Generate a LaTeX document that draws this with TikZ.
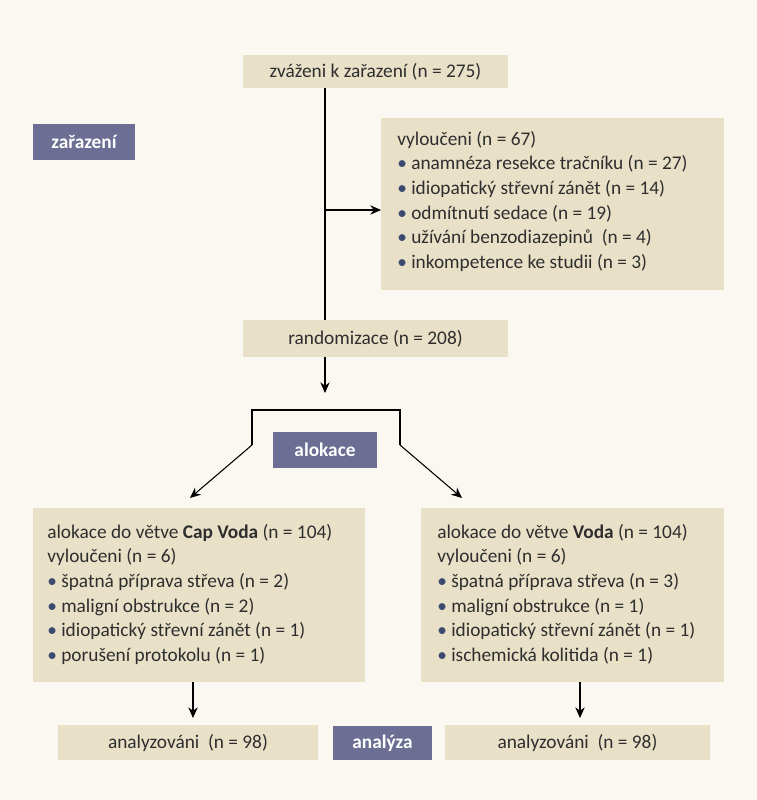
\documentclass[tikz,border=0pt]{standalone}
\usepackage{fontspec}
\setmainfont{Carlito}
\usetikzlibrary{arrows.meta}
\definecolor{bg}{HTML}{FBF8F1}
\definecolor{boxc}{HTML}{E9E0C8}
\definecolor{lab}{HTML}{6C6F93}
\definecolor{txt}{HTML}{2E2E2E}
\definecolor{bul}{HTML}{3A4A70}
\begin{document}
\begin{tikzpicture}[x=0.75pt,y=-0.75pt,font=\fontsize{14.5}{18.4}\selectfont,
  box/.style={fill=boxc,draw=none,text=txt},
  lbl/.style={fill=lab,text=white,font=\fontsize{14.5}{16}\selectfont\bfseries},
  ln/.style={line width=0.8pt,black},
  ar/.style={ln,-{Stealth[length=8pt,width=7pt]}}]
\newcommand{\bt}{{\color{bul}\textbullet}\ }
\fill[bg] (0,0) rectangle (757,800);
\path[box] (243,55) rectangle (508,88) node[midway,text=txt] (top) {zváženi k zařazení (n = 275)};
\coordinate (topb) at (325,88);
\path[lbl] (33,124) rectangle (135,160) node[midway] (zar) {zařazení};
\path[box] (381,118) rectangle (724,290);
\node[anchor=north west,align=left,inner sep=0,text=txt] (excl) at (397,131) {vyloučeni (n = 67)\\
\bt anamnéza resekce tračníku (n = 27)\\
\bt idiopatický střevní zánět (n = 14)\\
\bt odmítnutí sedace (n = 19)\\
\bt užívání benzodiazepinů\ \ (n = 4)\\
\bt inkompetence ke studii (n = 3)};
\coordinate (exw) at (381,210);
\coordinate (br) at (325,210);
\path[box] (243,320) rectangle (508,357) node[midway,text=txt] (rand) {randomizace (n = 208)};
\coordinate (randt) at (325,320);
\draw[ln] (topb) -- (randt);
\draw[ar] (br) -- (exw);
\coordinate (randb) at (325,357);
\coordinate (ra) at (325,393);
\draw[ar] (randb) -- (ra);
\coordinate (bl) at (252,410); \coordinate (brr) at (400,410);
\coordinate (bl2) at (252,445); \coordinate (br2) at (400,445);
\coordinate (la) at (190,498); \coordinate (rb) at (462,498);
\draw[ln] (bl2) -- (bl) -- (brr) -- (br2);
\draw[ar] (bl2) -- (la);
\draw[ar] (br2) -- (rb);
\path[lbl] (273,432) rectangle (377,468) node[midway] (alok) {alokace};
\path[box] (33,508) rectangle (365,682);
\node[anchor=north west,align=left,inner sep=0,text=txt] (lt) at (47,524) {alokace do větve \textbf{Cap Voda} (n = 104)\\
vyloučeni (n = 6)\\
\bt špatná příprava střeva (n = 2)\\
\bt maligní obstrukce (n = 2)\\
\bt idiopatický střevní zánět (n = 1)\\
\bt porušení protokolu (n = 1)};
\path[box] (421,508) rectangle (724,682);
\node[anchor=north west,align=left,inner sep=0,text=txt] (rt) at (437,524) {alokace do větve \textbf{Voda} (n = 104)\\
vyloučeni (n = 6)\\
\bt špatná příprava střeva (n = 3)\\
\bt maligní obstrukce (n = 1)\\
\bt idiopatický střevní zánět (n = 1)\\
\bt ischemická kolitida (n = 1)};
\coordinate (l1) at (193,682); \coordinate (l2) at (193,718);
\coordinate (r1) at (580,682); \coordinate (r2) at (580,718);
\draw[ar] (l1) -- (l2);
\draw[ar] (r1) -- (r2);
\path[box] (58,725) rectangle (318,760) node[midway,text=txt] (al) {analyzováni\ \ (n = 98)};
\path[box] (445,725) rectangle (710,760) node[midway,text=txt] (ar2) {analyzováni\ \ (n = 98)};
\path[lbl] (333,726) rectangle (432,760) node[midway] (an) {analýza};
\end{tikzpicture}
\end{document}
